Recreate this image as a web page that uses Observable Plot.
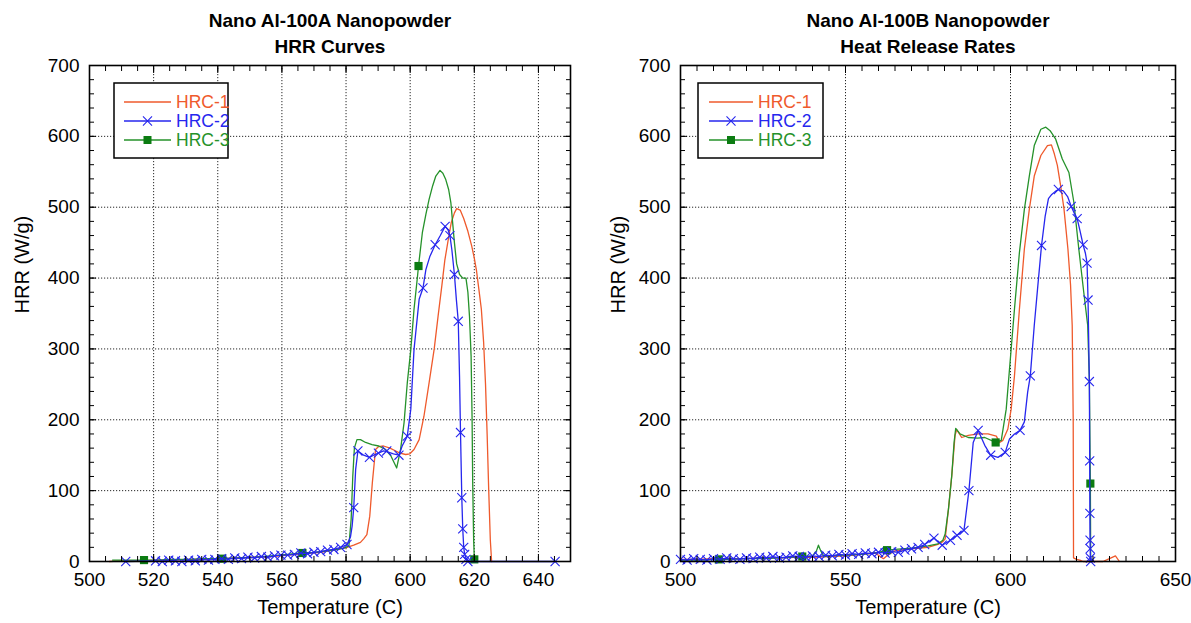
<!DOCTYPE html>
<html>
<head>
<meta charset="utf-8">
<script src="https://cdn.jsdelivr.net/npm/d3@7"></script>
<script src="https://cdn.jsdelivr.net/npm/@observablehq/plot@0.6"></script>
<style>
  html, body { margin: 0; padding: 0; background: #fff; }
  #wrap { display: flex; width: 1191px; height: 623px; }
  #wrap svg { display: block; }
</style>
</head>
<body>
<div id="wrap"></div>
<script>
// ---------- shared text / styling data ----------
const seriesNames = ["HRC-1", "HRC-2", "HRC-3"];
const seriesColors = ["#ef5a2c", "#2626ee", "#25922a"];
const markerGreen = "#0c7c12";
const titlesA = ["Nano Al-100A Nanopowder", "HRR Curves"];
const titlesB = ["Nano Al-100B Nanopowder", "Heat Release Rates"];
const xLabel = "Temperature (C)";
const yLabel = "HRR (W/g)";
const xTicksA = [500, 520, 540, 560, 580, 600, 620, 640];
const xTicksB = [500, 550, 600, 650];
const yTicks = [0, 100, 200, 300, 400, 500, 600, 700];

// ---------- Panel A (Nano Al-100A) ----------
const A_red_T = [506.2,510.3,515.5,520.6,525.8,530.9,536,541.2,546.4,551.5,556.7,561.8,567,572.1,577.3,580.3,582.4,584.5,585.5,586.5,587.4,588.2,589.2,590.1,591.7,593.7,595.5,596.8,598.6,599.9,601.2,602.8,604.3,605.9,607.5,608.7,609.9,610.8,611.9,612.8,613.8,614.5,615.6,616.7,618,619.2,620,620.7,621.4,622.2,622.9,623.5,624,624.5,625,625.4];
const A_red_H = [0,1,1,2,2,3,3,4,5,6,7,9,11,13,17,20,23,27,32,38,64,111,158,162,163,160,156,153,151,152,158,172,205,252,300,346,390,425,455,478,492,498,496,484,466,445,428,410,385,356,310,250,180,100,30,0];

const A_blue_T = [511.3,520.6,522.7,524.7,526.8,528.8,530.9,533,535,537.1,539.1,541.2,543.3,545.3,547.4,549.4,551.5,553.6,555.6,557.7,559.7,561.8,563.9,565.9,568,570,572.1,574.2,576.2,578.3,580.3,581.4,581.9,582.4,583,583.7,585.5,587.3,588.6,590.1,591.7,592.7,594.8,596.5,597.5,599.1,600.2,601.2,602.8,604,604.9,606.1,607.8,609.4,610.9,611.8,612.4,613,613.8,614.4,615,615.4,615.7,616.1,616.4,616.7,617,617.4,618,618.5,623.6,633.9,645.2];
const A_blue_H = [0,1,0,2,1,0,2,1,3,2,3,4,3,5,4,6,5,7,6,8,9,9,10,12,11,13,14,16,17,20,24,35,50,76,130,156,150,147,150,153,156,155,152,150,163,177,215,299,370,386,412,430,447,460,473,468,460,440,405,370,339,260,182,90,46,20,10,5,2,0,0,0,0];
const A_blueMark_T = [582.4,583.7,587.3,590.1,592.7,596.5,599.1,604,607.8,610.9,612.4,613.8,615,615.7,616.1,616.4,616.7,617,617.4,618,645.2];
const A_blueMark_H = [76,156,147,153,156,150,177,386,447,473,460,405,339,182,90,46,20,10,3,0,0];

const A_green_T = [507.2,510.3,516.5,520.6,525.8,530.9,536,541.2,546.4,551.5,556.7,561.8,565.9,570,574.2,577.3,579.3,580.9,581.6,582.1,582.6,583.4,584.5,586.1,588.1,590.2,592.3,594,595.8,597,598.1,599.1,600.2,601.2,602.3,602.6,603.8,604.9,605.9,607,608,609.3,610.2,611.1,612,612.7,613.8,614.5,615.4,616.4,617.4,618,618.5,619,619.3,619.5,619.8,620,620.5];
const A_green_H = [2,2,2,2,3,3,4,4,5,6,8,10,12,13,15,17,19,22,60,120,160,172,172,168,165,163,158,149,132,158,196,252,299,356,403,417,464,490,511,530,544,552,548,539,525,506,450,420,405,400,400,380,346,290,205,111,30,5,2];
const A_greenMark_T = [517,541.4,566.4,602.6,620];
const A_greenMark_H = [2,4,12,417,3];

// ---------- Panel B (Nano Al-100B) ----------
const B_red_T = [500,505,510,515,520,525,530,535,540,545,550,555,559,561.5,563,565,570,575,578,579.5,580.2,581.2,582.2,583.2,583.7,585.2,587.2,590.2,593.2,595.7,596.7,597.7,599.2,600.2,601.2,602.7,604.2,605.7,607.2,609.2,611.2,612.4,613.3,614.2,615.2,616.2,617.4,618.2,618.7,619,619.1,620,621,622,624,628,630,631.8,633];
const B_red_H = [3,3,4,4,4,5,5,6,6,7,8,10,12,4,10,15,18,20,24,28,32,74,121,178,186,175,178,180,180,177,168,171,187,215,262,356,441,497,544,573,587,588,575,559,530,498,441,390,333,202,5,3,2,0,0,0,4,8,0];

const B_blue_T = [500,502,504,506,508,510,512,514,516,518,520,522,524,526,528,530,532,534,536,538,540,542,544,546,548,550,552,554,556,558,560,562,564,566,568,570,572,574,576.8,579.3,581.8,583.8,585.9,587.4,588.7,590.2,592.2,594,596.2,598.4,599.7,601.2,602.9,604.2,605.2,606,607.2,608.3,609.4,610.5,611.5,612.5,613.5,614.5,616,617.3,618.4,619.3,620.2,621.1,622,622.7,623.2,623.5,623.9,624,624.05,624.1,624.15,624.2,624.3,625];
const B_blue_H = [3,2,4,3,2,4,3,5,4,3,5,4,6,5,7,5,6,8,7,6,8,7,9,8,10,9,11,10,12,11,13,12,14,13,16,18,20,24,33,23,30,37,44,100,168,185,164,150,147,154,173,180,185,197,239,262,333,390,446,487,512,518,522,525,523,515,501,492,484,466,447,435,421,369,254,142,68,30,18,5,0,0];
const B_blueMark_T = [576.8,579.3,581.8,583.8,585.9,587.4,590.2,594,598.4,602.9,606,609.4,614.5,618.4,620.2,622,623.2,623.5,623.9,624,624.05,624.1,624.15,624.2,624.3];
const B_blueMark_H = [33,23,30,37,44,100,185,150,154,185,262,446,525,501,484,447,421,369,254,142,68,30,18,5,0];

const B_green_T = [500,505,511.6,515,520,525,530,536.9,540,541.2,541.8,542.5,543.5,545,550,555,560,562.6,565,570,575,578,579.5,580.2,581.2,582.2,582.9,583.4,584.7,587.2,590,592.2,595.5,597.2,598.7,600.2,601.2,602.7,604.2,605.7,607.2,609.2,610.7,612,613.7,615.7,617.7,619.2,620.7,622.2,623.4,623.9,624.2,624.3];
const B_green_H = [2,2,3,3,4,4,5,7,8,15,23,15,7,8,9,10,13,16,17,19,22,25,30,39,74,121,168,188,180,175,174,175,168,171,215,300,356,436,497,544,587,610,613,608,596,568,549,507,441,380,333,254,110,0];
const B_greenMark_T = [511.6,536.9,562.6,595.5,624.2];
const B_greenMark_H = [3,7,16,168,110];

// ---------- helpers ----------
const FONT = "'Liberation Sans', Arial, Helvetica, sans-serif";
const rows = (T, H) => T.map((t, i) => ({t, h: H[i]}));

function panel(cfg) {
  const red = rows(cfg.redT, cfg.redH);
  const blue = rows(cfg.blueT, cfg.blueH);
  const green = rows(cfg.greenT, cfg.greenH);
  const blueMarks = blue.filter(d => d.t < cfg.blueDenseEnd).concat(rows(cfg.blueMarkT, cfg.blueMarkH));
  const greenMarks = rows(cfg.greenMarkT, cfg.greenMarkH);
  const xMinor = d3.range(500, 650.1, 5);
  const yMinor = d3.range(0, 700.1, 20);
  const grid = {stroke: "#000", strokeOpacity: 0.85, strokeDasharray: "1.2,1.8", strokeWidth: 1};
  const svg = Plot.plot({
    width: cfg.width,
    height: 623,
    marginTop: 65,
    marginBottom: 62,
    marginLeft: cfg.marginLeft,
    marginRight: cfg.marginRight,
    x: {domain: [500, 650]},
    y: {domain: [0, 700]},
    style: {fontFamily: FONT, fontSize: "18px", color: "#000", background: "#fff", overflow: "visible"},
    marks: [
      Plot.gridX(cfg.xTicks.filter(v => v > 500 && v < 650), grid),
      Plot.gridY(yTicks.filter(v => v > 0 && v < 700), grid),
      Plot.line(red, {x: "t", y: "h", stroke: seriesColors[0], strokeWidth: 1.3}),
      Plot.line(green, {x: "t", y: "h", stroke: seriesColors[2], strokeWidth: 1.3}),
      Plot.dot(greenMarks, {x: "t", y: "h", symbol: "square", fill: markerGreen, r: 4.6}),
      Plot.line(blue, {x: "t", y: "h", stroke: seriesColors[1], strokeWidth: 1.3}),
      Plot.dot(blueMarks, {x: "t", y: "h", symbol: "times", stroke: seriesColors[1], fill: "none", strokeWidth: 1.1, r: 4.2}),
      // tick labels
      Plot.axisX(cfg.xTicks, {anchor: "bottom", tickSize: 0, tickPadding: 11, label: null, fontSize: 19}),
      Plot.axisY(yTicks, {anchor: "left", tickSize: 0, tickPadding: 10, label: null, fontSize: 19}),
      // inward ticks on all four sides
      Plot.axisX(cfg.xTicks, {anchor: "bottom", tickSize: -7, fill: "none", label: null}),
      Plot.axisX(xMinor, {anchor: "bottom", tickSize: -5, fill: "none", label: null}),
      Plot.axisX(cfg.xTicks, {anchor: "top", tickSize: -7, fill: "none", label: null}),
      Plot.axisX(xMinor, {anchor: "top", tickSize: -5, fill: "none", label: null}),
      Plot.axisY(yTicks, {anchor: "left", tickSize: -7, fill: "none", label: null}),
      Plot.axisY(yMinor, {anchor: "left", tickSize: -5, fill: "none", label: null}),
      Plot.axisY(yTicks, {anchor: "right", tickSize: -7, fill: "none", label: null}),
      Plot.axisY(yMinor, {anchor: "right", tickSize: -5, fill: "none", label: null}),
      Plot.frame({stroke: "#000", strokeWidth: 1.6}),
      // titles and axis labels
      Plot.text([cfg.titles[0]], {frameAnchor: "top", lineAnchor: "middle", dy: -45, fontWeight: "bold", fontSize: 19}),
      Plot.text([cfg.titles[1]], {frameAnchor: "top", lineAnchor: "middle", dy: -19, fontWeight: "bold", fontSize: 19}),
      Plot.text([xLabel], {frameAnchor: "bottom", lineAnchor: "middle", dy: 46, fontSize: 20}),
      Plot.text([yLabel], {frameAnchor: "left", lineAnchor: "middle", rotate: -90, dx: cfg.yLabelDx, fontSize: 20})
    ]
  });
  // legend box (pixel layout)
  const L = cfg.legend;
  const g = d3.select(svg).append("g")
    .attr("font-family", FONT).attr("font-size", 17.5).attr("text-anchor", "start");
  g.append("rect").attr("x", L.x).attr("y", L.y).attr("width", L.w).attr("height", L.h)
    .attr("fill", "#fff").attr("stroke", "#000").attr("stroke-width", 1.5);
  seriesNames.forEach((name, i) => {
    const cy = L.y + 19 + i * 19;
    g.append("line").attr("x1", L.lx1).attr("x2", L.lx2).attr("y1", cy).attr("y2", cy)
      .attr("stroke", seriesColors[i]).attr("stroke-width", 1.3);
    const mx = (L.lx1 + L.lx2) / 2;
    if (i === 1) {
      g.append("path").attr("d", d3.symbol(d3.symbolTimes, 55)()).attr("transform", `translate(${mx},${cy})`)
        .attr("stroke", seriesColors[1]).attr("fill", "none").attr("stroke-width", 1.1);
    }
    if (i === 2) {
      g.append("rect").attr("x", mx - 4).attr("y", cy - 4).attr("width", 8).attr("height", 8).attr("fill", markerGreen);
    }
    g.append("text").attr("x", L.tx).attr("y", cy).attr("dy", "0.35em")
      .attr("text-anchor", "start").attr("fill", seriesColors[i]).text(name);
  });
  return svg;
}

const wrap = document.getElementById("wrap");
wrap.appendChild(panel({
  width: 595, marginLeft: 89, marginRight: 25, yLabelDx: -67, blueDenseEnd: 581,
  titles: titlesA, xTicks: xTicksA,
  redT: A_red_T, redH: A_red_H, blueT: A_blue_T, blueH: A_blue_H,
  blueMarkT: A_blueMark_T, blueMarkH: A_blueMark_H,
  greenT: A_green_T, greenH: A_green_H, greenMarkT: A_greenMark_T, greenMarkH: A_greenMark_H,
  legend: {x: 114, y: 83, w: 114, h: 75, lx1: 124, lx2: 171, tx: 176}
}));
wrap.appendChild(panel({
  width: 596, marginLeft: 85, marginRight: 16, yLabelDx: -62, blueDenseEnd: 576,
  titles: titlesB, xTicks: xTicksB,
  redT: B_red_T, redH: B_red_H, blueT: B_blue_T, blueH: B_blue_H,
  blueMarkT: B_blueMark_T, blueMarkH: B_blueMark_H,
  greenT: B_green_T, greenH: B_green_H, greenMarkT: B_greenMark_T, greenMarkH: B_greenMark_H,
  legend: {x: 103, y: 83, w: 125, h: 75, lx1: 114, lx2: 158, tx: 163}
}));
</script>
</body>
</html>
